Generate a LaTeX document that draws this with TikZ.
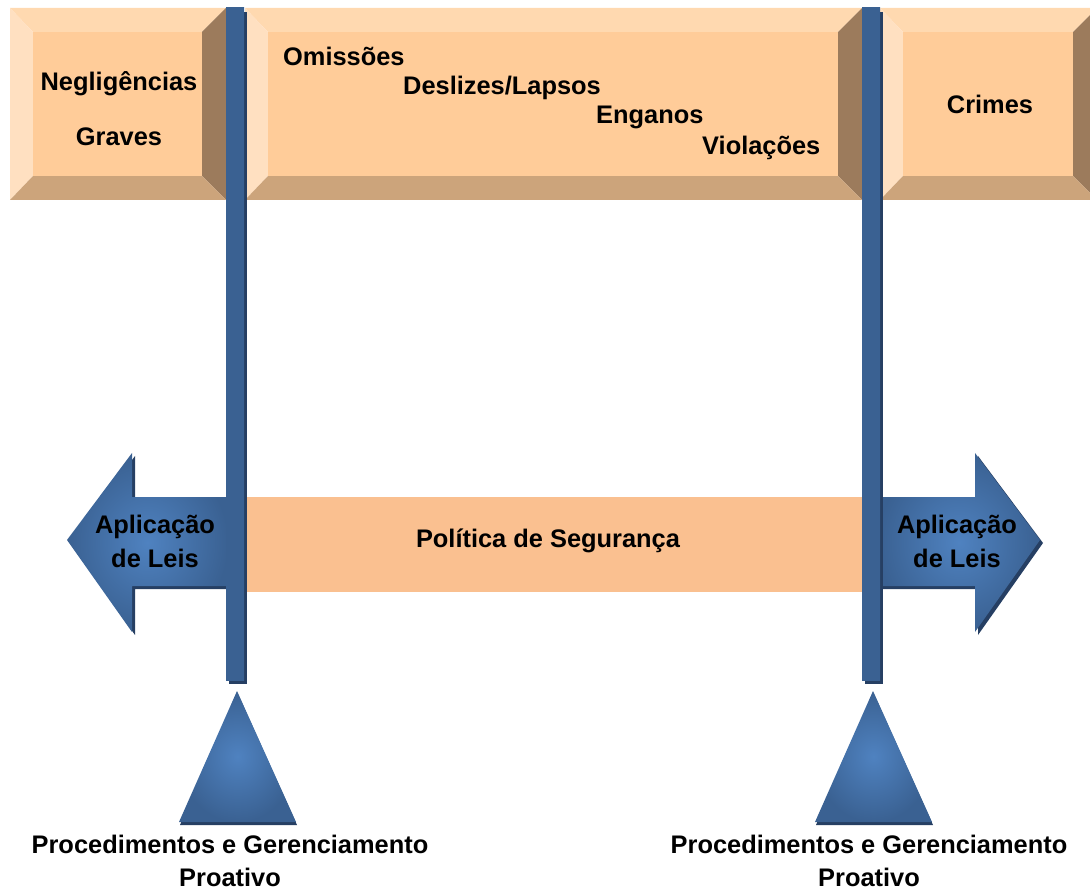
\documentclass[tikz,border=0pt]{standalone}
\usepackage{fontspec}
\setmainfont{Liberation Sans}
\usetikzlibrary{positioning}

\definecolor{boxface}{HTML}{FFCC99}
\definecolor{boxtop}{HTML}{FFD9B0}
\definecolor{boxleft}{HTML}{FFE0C1}
\definecolor{boxright}{HTML}{9C7B5C}
\definecolor{boxbottom}{HTML}{CCA47B}
\definecolor{bandfill}{HTML}{FAC090}
\definecolor{bluelight}{HTML}{4F82C0}
\definecolor{bluedark}{HTML}{3A6192}
\definecolor{blueshadow}{HTML}{263F63}

\tikzset{
  label text/.style={font=\fontsize{25.4}{34}\selectfont\bfseries, inner sep=0pt, align=center},
  blue shape/.style={inner color=bluelight, outer color=bluedark},
  blue bar/.style={top color=bluedark, middle color=bluelight, bottom color=bluedark},
  shadow fill/.style={fill=blueshadow},
}

\begin{document}
\begin{tikzpicture}[x=1pt, y=-1pt]
  \useasboundingbox (0,0) rectangle (1090,890);

  % bevelled boxes on top
  \foreach \xa/\xb in {10/226, 245/862, 880/1097} {
    \fill[boxtop] (\xa,8) -- (\xb,8) -- (\xb-24,32) -- (\xa+23,32) -- cycle;
    \fill[boxleft] (\xa,8) -- (\xa+23,32) -- (\xa+23,176) -- (\xa,200) -- cycle;
    \fill[boxright] (\xb,8) -- (\xb,200) -- (\xb-24,176) -- (\xb-24,32) -- cycle;
    \fill[boxbottom] (\xa,200) -- (\xb,200) -- (\xb-24,176) -- (\xa+23,176) -- cycle;
    \fill[boxface] (\xa+23,32) rectangle (\xb-24,176);
  }

  % band in the middle
  \fill[bandfill] (240,497) rectangle (866,592);

  % arrows
  \fill[shadow fill] (231,500) -- (135,500) -- (135,456) -- (70,543) -- (135,635)
    -- (135,589) -- (231,589) -- cycle;
  \shade[blue shape] (228,497) -- (132,497) -- (132,453) -- (67,540) -- (132,632)
    -- (132,586) -- (228,586) -- cycle;
  \fill[shadow fill] (881,500) -- (978,500) -- (978,456) -- (1043,543) -- (978,635)
    -- (978,589) -- (881,589) -- cycle;
  \shade[blue shape] (878,497) -- (975,497) -- (975,453) -- (1040,540) -- (975,632)
    -- (975,586) -- (878,586) -- cycle;

  % vertical bars
  \foreach \xa in {226, 862} {
    \fill[shadow fill] (\xa+3,12) rectangle (\xa+21,684);
    \shade[blue bar] (\xa,8) rectangle (\xa+18,680);
  }

  % triangles
  \foreach \xt in {237, 873} {
    \fill[shadow fill] (\xt-57,825) -- (\xt+60,825) -- (\xt+1,694) -- cycle;
    \shade[blue shape] (\xt-58,822) -- (\xt+59,822) -- (\xt,691) -- cycle;
  }

  % texts
  \node[label text, anchor=base] (negl) at (119,146) {Negligências\\[21pt]Graves};
  \node[label text, anchor=base west] (omis) at (283,66) {Omissões};
  \node[label text, anchor=base west] (desl) at (403,95) {Deslizes/Lapsos};
  \node[label text, anchor=base west] (enga) at (596,124) {Enganos};
  \node[label text, anchor=base west] (viol) at (702,155) {Violações};
  \node[label text, anchor=base] (crim) at (990,114) {Crimes};
  \node[label text, anchor=base] (poli) at (548,547) {Política de Segurança};
  \node[label text, anchor=base] (aplL) at (155,567) {Aplicação\\de Leis};
  \node[label text, anchor=base] (aplR) at (957,567) {Aplicação\\de Leis};
  \node[label text, anchor=base] (procL) at (230,886) {Procedimentos e Gerenciamento\\[-1pt]Proativo};
  \node[label text, anchor=base] (procR) at (869,886) {Procedimentos e Gerenciamento\\[-1pt]Proativo};
\end{tikzpicture}
\end{document}
